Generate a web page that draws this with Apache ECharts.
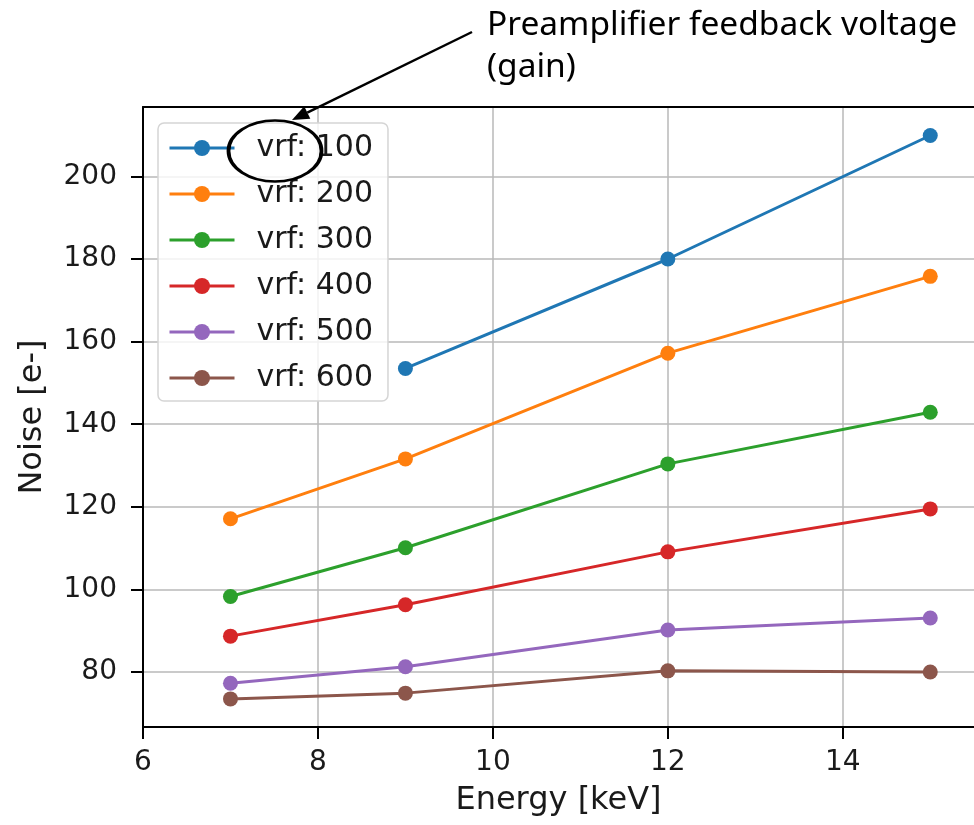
<!DOCTYPE html>
<html>
<head>
<meta charset="utf-8">
<script src="https://cdn.jsdelivr.net/npm/echarts@6/dist/echarts.min.js"></script>
<style>
html,body{margin:0;padding:0;background:#fff;}
#chart{width:974px;height:825px;}
</style>
</head>
<body>
<div id="chart"></div>
<script>
// ---- data ----
const energies = [7, 9, 12, 15];
const seriesNames = ['vrf: 100', 'vrf: 200', 'vrf: 300', 'vrf: 400', 'vrf: 500', 'vrf: 600'];
const vrf100 = [null, 153.5, 180.0, 209.9];
const vrf200 = [117.1, 131.6, 157.2, 175.8];
const vrf300 = [98.3, 110.1, 130.4, 142.9];
const vrf400 = [88.7, 96.3, 109.1, 119.5];
const vrf500 = [77.3, 81.3, 90.2, 93.1];
const vrf600 = [73.5, 74.9, 80.3, 80.0];
const yTicks = [80, 100, 120, 140, 160, 180, 200];
const colors = ['#1f77b4', '#ff7f0e', '#2ca02c', '#d62728', '#9467bd', '#8c564b'];
const annotationText = 'Preamplifier feedback voltage\n(gain)';

const allValues = [vrf100, vrf200, vrf300, vrf400, vrf500, vrf600];

const chart = echarts.init(document.getElementById('chart'), null, {renderer: 'canvas'});

const series = allValues.map((vals, i) => ({
  name: seriesNames[i],
  type: 'line',
  data: energies.map((e, j) => vals[j] == null ? null : [e, vals[j]]).filter(d => d !== null),
  symbol: 'circle',
  symbolSize: 15,
  lineStyle: {width: 3, color: colors[i]},
  itemStyle: {color: colors[i]},
  emphasis: {disabled: true},
  animation: false,
  z: 3
}));

// arrow geometry (annotation, in pixels)
const tip = [292, 120], tail = [472, 32];
const dx = tip[0] - tail[0], dy = tip[1] - tail[1];
const len = Math.sqrt(dx*dx + dy*dy);
const ux = dx/len, uy = dy/len;
const headL = 17, headW = 7;
const base = [tip[0] - ux*headL, tip[1] - uy*headL];
const p1 = [base[0] - uy*headW, base[1] + ux*headW];
const p2 = [base[0] + uy*headW, base[1] - ux*headW];

const option = {
  backgroundColor: '#ffffff',
  animation: false,
  color: colors,
  grid: {
    left: 143, top: 107, right: 0, bottom: 98,
    show: false,
    containLabel: false
  },
  legend: {
    orient: 'vertical',
    left: 158, top: 123,
    data: seriesNames,
    itemWidth: 65, itemHeight: 20,
    itemGap: 16,
    padding: [10, 15, 8, 10],
    backgroundColor: 'rgba(255,255,255,0.8)',
    borderColor: '#d5d5d5', borderWidth: 1.5, borderRadius: 6,
    lineStyle: {width: 3},
    textStyle: {fontFamily: 'DejaVu Sans', fontSize: 30, color: '#1a1a1a', padding: [0, 0, 0, 17]},
    selectedMode: false,
    z: 10
  },
  xAxis: [{
    type: 'value',
    min: 6, max: 15.5, interval: 2,
    name: 'Energy [keV]',
    nameLocation: 'middle',
    nameGap: 58,
    nameTextStyle: {fontFamily: 'DejaVu Sans', fontSize: 32, color: '#1a1a1a'},
    axisLine: {show: true, onZero: false, lineStyle: {color: '#000', width: 2}},
    axisTick: {show: true, length: 12, lineStyle: {color: '#000', width: 2}},
    axisLabel: {fontFamily: 'DejaVu Sans', fontSize: 28, color: '#1a1a1a', margin: 22, showMaxLabel: false},
    splitLine: {show: true, showMinLine: true, showMaxLine: false, lineStyle: {color: '#b8b8b8', width: 1.5}}
  }, {
    type: 'value',
    position: 'top',
    min: 6, max: 15.5, interval: 2,
    axisLine: {show: true, onZero: false, lineStyle: {color: '#000', width: 2}},
    axisTick: {show: false},
    axisLabel: {show: false},
    splitLine: {show: false}
  }],
  yAxis: {
    type: 'value',
    min: 66.7, max: 216.8, splitNumber: 7,
    name: 'Noise [e-]',
    nameLocation: 'middle',
    nameGap: 94,
    nameTextStyle: {fontFamily: 'DejaVu Sans', fontSize: 32, color: '#1a1a1a'},
    axisLine: {show: true, onZero: false, lineStyle: {color: '#000', width: 2}},
    axisTick: {show: true, length: 12, lineStyle: {color: '#000', width: 2}, customValues: yTicks},
    axisLabel: {fontFamily: 'DejaVu Sans', fontSize: 28, color: '#1a1a1a', margin: 26, customValues: yTicks},
    splitLine: {show: true, lineStyle: {color: '#b8b8b8', width: 1.5}}
  },
  series: series,
  graphic: [
    {
      type: 'text', left: 487, top: 4, z: 20,
      style: {text: annotationText, fontFamily: 'Noto Sans', fontSize: 33.5, lineHeight: 42, fill: '#000'}
    },
    {
      type: 'line', z: 20,
      shape: {x1: tail[0], y1: tail[1], x2: base[0], y2: base[1]},
      style: {stroke: '#000', lineWidth: 2.5}
    },
    {
      type: 'polygon', z: 20,
      shape: {points: [tip, p1, p2]},
      style: {fill: '#000'}
    },
    {
      type: 'circle', z: 20,
      x: 275, y: 151, scaleX: 46.5/30.5, scaleY: 1,
      shape: {cx: 0, cy: 0, r: 30.5},
      style: {fill: 'none', stroke: '#000', lineWidth: 2.5, strokeNoScale: true}
    }
  ]
};
chart.setOption(option);
</script>
</body>
</html>
